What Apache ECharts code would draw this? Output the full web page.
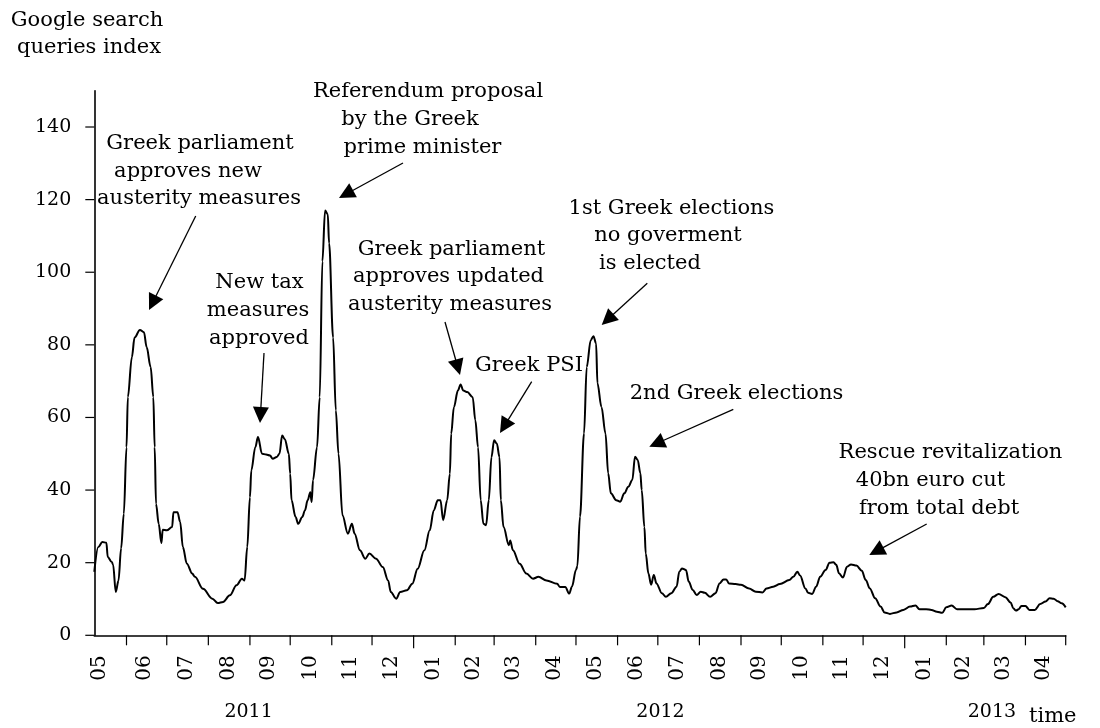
<!DOCTYPE html>
<html>
<head>
<meta charset="utf-8">
<script src="https://cdn.jsdelivr.net/npm/echarts@6/dist/echarts.min.js"></script>
<style>
html,body{margin:0;padding:0;background:#fff;}
#chart{width:1100px;height:728px;}
</style>
</head>
<body>
<div id="chart"></div>
<script>
// ---------- DATA ----------
const dates = [
'2011-05-08','2011-05-11','2011-05-14','2011-05-17','2011-05-18','2011-05-21','2011-05-22','2011-05-24','2011-05-26','2011-05-28',
'2011-05-30','2011-06-01','2011-06-02','2011-06-05','2011-06-07','2011-06-11','2011-06-14','2011-06-16','2011-06-19','2011-06-21',
'2011-06-22','2011-06-23','2011-06-25','2011-06-27','2011-06-28','2011-07-01','2011-07-05','2011-07-06','2011-07-09','2011-07-11',
'2011-07-13','2011-07-16','2011-07-20','2011-07-22','2011-07-28','2011-08-04','2011-08-08','2011-08-12','2011-08-17','2011-08-22',
'2011-08-26','2011-08-28','2011-08-30','2011-09-01','2011-09-02','2011-09-05','2011-09-07','2011-09-10','2011-09-13','2011-09-16',
'2011-09-18','2011-09-21','2011-09-23','2011-09-25','2011-09-27','2011-09-30','2011-10-01','2011-10-02','2011-10-05','2011-10-07',
'2011-10-10','2011-10-12','2011-10-14','2011-10-16','2011-10-17','2011-10-18','2011-10-21','2011-10-23','2011-10-25','2011-10-27',
'2011-10-29','2011-10-30','2011-11-02','2011-11-04','2011-11-06','2011-11-09','2011-11-13','2011-11-16','2011-11-18','2011-11-22',
'2011-11-26','2011-11-29','2011-12-04','2011-12-09','2011-12-13','2011-12-15','2011-12-19','2011-12-22','2011-12-27','2011-12-31',
'2012-01-04','2012-01-09','2012-01-13','2012-01-16','2012-01-19','2012-01-21','2012-01-23','2012-01-26','2012-01-28','2012-01-29',
'2012-01-31','2012-02-03','2012-02-05','2012-02-07','2012-02-10','2012-02-14','2012-02-16','2012-02-18','2012-02-20','2012-02-22',
'2012-02-24','2012-02-26','2012-02-28','2012-03-01','2012-03-03','2012-03-05','2012-03-06','2012-03-08','2012-03-12','2012-03-13',
'2012-03-15','2012-03-20','2012-03-25','2012-03-30','2012-04-03','2012-04-09','2012-04-17','2012-04-19','2012-04-23','2012-04-26',
'2012-04-28','2012-05-01','2012-05-02','2012-05-04','2012-05-07','2012-05-09','2012-05-12','2012-05-14','2012-05-16','2012-05-17',
'2012-05-20','2012-05-23','2012-05-25','2012-05-27','2012-05-31','2012-06-03','2012-06-06','2012-06-09','2012-06-12','2012-06-14',
'2012-06-16','2012-06-18','2012-06-19','2012-06-21','2012-06-22','2012-06-24','2012-06-26','2012-06-28','2012-06-30','2012-07-04',
'2012-07-07','2012-07-11','2012-07-15','2012-07-17','2012-07-19','2012-07-22','2012-07-24','2012-07-27','2012-07-30','2012-08-02',
'2012-08-05','2012-08-09','2012-08-13','2012-08-16','2012-08-19','2012-08-21','2012-08-23','2012-08-28','2012-09-01','2012-09-07',
'2012-09-12','2012-09-17','2012-09-20','2012-09-25','2012-09-30','2012-10-07','2012-10-10','2012-10-13','2012-10-15','2012-10-19',
'2012-10-21','2012-10-24','2012-10-27','2012-10-30','2012-11-03','2012-11-06','2012-11-09','2012-11-11','2012-11-13','2012-11-16',
'2012-11-19','2012-11-22','2012-11-26','2012-11-30','2012-12-03','2012-12-06','2012-12-10','2012-12-14','2012-12-17','2012-12-21',
'2012-12-26','2012-12-31','2013-01-05','2013-01-09','2013-01-12','2013-01-17','2013-01-21','2013-01-25','2013-01-29','2013-02-01',
'2013-02-05','2013-02-09','2013-02-15','2013-02-22','2013-03-01','2013-03-04','2013-03-08','2013-03-12','2013-03-17','2013-03-21',
'2013-03-23','2013-03-25','2013-03-27','2013-03-29','2013-04-01','2013-04-04','2013-04-08','2013-04-12','2013-04-16','2013-04-19',
'2013-04-22','2013-04-25','2013-04-28','2013-05-01'
];
const values = [
17.5,24.3,25.7,25.5,21.6,20.2,19.5,11.9,15,24,
33.5,51.8,65.6,76.6,82,84.1,83.5,79.4,73.9,65.6,
51.8,36.2,30.7,25.4,29.1,28.9,29.8,33.9,33.9,31.2,
24.3,19.7,17,16.1,12.8,10.1,8.9,9.2,11,13.8,
15.6,15.1,24.3,38,45.4,51.8,54.6,50,49.8,49.5,
48.6,49.1,50,55,54,50,44.5,37.2,32.6,30.7,
32.6,34.4,37.2,39.4,36.7,42.7,51.8,65.6,103,117,
116,108,82,62,50,33,28,30.7,28,23.4,
21.1,22.5,21.1,18.8,15.1,11.9,10.1,11.9,12.4,14.2,
18.3,23.4,28.9,34.4,37.2,37.2,31.7,37.2,44.5,55.5,
62.8,67.4,69.1,67.4,67,65.6,59.2,51.8,37.2,30.7,
30.3,37.2,49.1,53.7,52.8,49.1,37.2,29.8,24.8,26.1,
23.4,19.7,17,15.6,16.1,15.1,14.2,13.3,13.3,11.5,
13.4,18,19,32.7,55.6,73.9,81.3,82.4,80.4,69.4,
62.9,55.6,44.6,39.1,37.2,36.8,39.1,40.9,42.8,49.2,
48.3,44.6,40,29.8,22.5,17,13.9,16.6,14.3,11.6,
10.6,11.6,13.4,17.5,18.4,18,14.8,12.5,11.1,12,
11.7,10.6,11.6,14.3,15.4,15.4,14.3,14.1,13.9,12.9,
12,11.8,12.9,13.4,14.1,15.2,16.1,17.5,16.5,12.9,
11.7,11.4,13.4,16.1,18,20,20.1,19.4,17.1,15.9,
18.9,19.5,19.2,17.8,15.2,12.9,10.2,7.9,6.3,5.9,
6.3,7,7.9,8.2,7.2,7.2,7,6.5,6.2,7.7,
8.2,7.2,7.2,7.2,7.5,8.6,10.6,11.4,10.5,9,
7.4,6.8,7.2,8.1,8.1,7,7,8.6,9.3,10.2,
10.1,9.4,8.8,7.7
];
const yTickValues = [0, 20, 40, 60, 80, 100, 120, 140];
const monthTicks = [
'2011-06-01','2011-07-01','2011-08-01','2011-09-01','2011-10-01','2011-11-01','2011-12-01',
'2012-01-01','2012-02-01','2012-03-01','2012-04-01','2012-05-01','2012-06-01','2012-07-01',
'2012-08-01','2012-09-01','2012-10-01','2012-11-01','2012-12-01',
'2013-01-01','2013-02-01','2013-03-01','2013-04-01','2013-05-01'
];
const monthLabelDates = [
'2011-05-12','2011-06-15','2011-07-16','2011-08-16','2011-09-15','2011-10-16','2011-11-15','2011-12-16',
'2012-01-16','2012-02-15','2012-03-16','2012-04-15','2012-05-16','2012-06-15','2012-07-16',
'2012-08-16','2012-09-15','2012-10-16','2012-11-15','2012-12-16',
'2013-01-16','2013-02-14','2013-03-16','2013-04-15'
];
const yearTicks = ['2012-01-01', '2013-01-01'];
const yearLabelDates = ['2011-08-31', '2012-07-03', '2013-03-07'];
const axisStart = '2011-05-08';
const axisEnd = '2013-05-01';

const yTitle = ['Google search', 'queries index'];
const annotations = [
  { lines: ['Greek parliament', 'approves new', 'austerity measures'] },
  { lines: ['New tax', 'measures', 'approved'] },
  { lines: ['Referendum proposal', 'by the Greek', 'prime minister'] },
  { lines: ['Greek parliament', 'approves updated', 'austerity measures'] },
  { lines: ['Greek PSI'] },
  { lines: ['1st Greek elections', 'no goverment', 'is elected'] },
  { lines: ['2nd Greek elections'] },
  { lines: ['Rescue revitalization', '40bn euro cut', 'from total debt'] }
];

// ---------- LAYOUT (pixel positions of the annotation texts / arrows) ----------
const annotationLayout = [
  { centers: [[200, 144], [188, 172], [199, 199]], arrow: [195.7, 216, 149, 310] },
  { centers: [[259.5, 282.5], [258, 311], [259, 339]], arrow: [264, 353, 260, 423] },
  { centers: [[428, 91.5], [410, 119.5], [422.5, 147.5]], arrow: [403, 163, 339, 198] },
  { centers: [[451.5, 249.5], [448.5, 277], [450, 305]], arrow: [445, 322, 460, 375] },
  { centers: [[529, 366]], arrow: [531.7, 381.7, 500, 433] },
  { centers: [[671.5, 208.5], [668, 236], [650, 263.5]], arrow: [647.3, 283.3, 601.7, 325] },
  { centers: [[736.5, 393.5]], arrow: [733.3, 409.3, 649.3, 446.7] },
  { centers: [[950.5, 452.5], [930.5, 481], [939, 508.5]], arrow: [926.7, 524, 869.3, 555] }
];

const FONT_FAMILY = '"DejaVu Serif", "Liberation Serif", serif';
const AXIS_FONT_SIZE = 19;
const MONTH_FONT_SIZE = 20;
const NOTE_FONT_SIZE = 21;

function ts(s) {
  const p = s.split('-').map(Number);
  return new Date(p[0], p[1] - 1, p[2]).getTime();
}

const seriesData = dates.map((d, i) => [ts(d), values[i]]);

function arrowElements(a) {
  const [x1, y1, x2, y2] = a;
  const dx = x2 - x1, dy = y2 - y1;
  const L = Math.hypot(dx, dy);
  const ux = dx / L, uy = dy / L;
  const hl = 16, hw = 8;
  const bx = x2 - ux * hl, by = y2 - uy * hl;
  return [
    { type: 'line', silent: true, shape: { x1: x1, y1: y1, x2: bx + ux * 2, y2: by + uy * 2 },
      style: { stroke: '#000', lineWidth: 1.3 } },
    { type: 'polygon', silent: true,
      shape: { points: [[x2, y2], [bx - uy * hw, by + ux * hw], [bx + uy * hw, by - ux * hw]] },
      style: { fill: '#000' } }
  ];
}

function textEl(t, x, y, align) {
  return {
    type: 'text', silent: true, x: x, y: y,
    style: {
      text: t, fill: '#000', align: align || 'center', verticalAlign: 'middle',
      fontSize: NOTE_FONT_SIZE, fontFamily: FONT_FAMILY
    }
  };
}

const graphics = [];
graphics.push(textEl(yTitle[0], 87, 21));
graphics.push(textEl(yTitle[1], 89, 47.5));
annotations.forEach((a, i) => {
  const lay = annotationLayout[i];
  a.lines.forEach((ln, j) => {
    graphics.push(textEl(ln, lay.centers[j][0], lay.centers[j][1]));
  });
  arrowElements(lay.arrow).forEach(e => graphics.push(e));
});
graphics.push(textEl('time', 1029, 717, 'left'));

const labelStyle = { color: '#000', fontSize: AXIS_FONT_SIZE, fontFamily: FONT_FAMILY };

const chart = echarts.init(document.getElementById('chart'), null, { renderer: 'canvas' });
chart.setOption({
  animation: false,
  backgroundColor: '#fff',
  grid: { left: 94.3, right: 34.3, top: 90.7, bottom: 92.7, containLabel: false },
  xAxis: [
    {
      type: 'value',
      min: ts(axisStart),
      max: ts(axisEnd),
      position: 'bottom',
      axisLine: { show: true, onZero: false, lineStyle: { color: '#000', width: 1.6 } },
      axisTick: { show: false },
      axisLabel: Object.assign({}, labelStyle, {
        show: true, rotate: 90, margin: 20, fontSize: MONTH_FONT_SIZE,
        customValues: monthLabelDates.map(ts),
        formatter: function (v) {
          const m = new Date(v).getMonth() + 1;
          return (m < 10 ? '0' : '') + m;
        }
      }),
      splitLine: { show: false }
    },
    {
      type: 'value',
      min: ts(axisStart),
      max: ts(axisEnd),
      position: 'bottom',
      offset: 0,
      axisLine: { show: false },
      axisTick: { show: false },
      axisLabel: Object.assign({}, labelStyle, {
        show: true, margin: 67,
        customValues: yearLabelDates.map(ts),
        formatter: function (v) { return String(new Date(v).getFullYear()); }
      }),
      splitLine: { show: false }
    }
  ],
  yAxis: {
    type: 'value',
    min: 0,
    max: 150,
    axisLine: { show: true, onZero: false, lineStyle: { color: '#000', width: 1.6 } },
    axisTick: { show: false },
    axisLabel: Object.assign({ show: true, margin: 23, customValues: yTickValues }, labelStyle),
    splitLine: { show: false }
  },
  series: [{
    type: 'line',
    xAxisIndex: 0,
    data: seriesData,
    showSymbol: false,
    smooth: 0.35,
    smoothMonotone: 'x',
    lineStyle: { color: '#000', width: 2 },
    emphasis: { disabled: true }
  }],
  graphic: { elements: graphics }
});

// Axis ticks, positioned through the chart's own scales
const tickEls = [];
const yZero = chart.convertToPixel({ yAxisIndex: 0 }, 0);
const xStart = chart.convertToPixel({ xAxisIndex: 0 }, ts(axisStart));
monthTicks.forEach(d => {
  const x = chart.convertToPixel({ xAxisIndex: 0 }, ts(d));
  const len = yearTicks.indexOf(d) >= 0 ? 13 : 10;
  tickEls.push({ type: 'line', silent: true, shape: { x1: x, y1: yZero, x2: x, y2: yZero + len },
    style: { stroke: '#000', lineWidth: 1.2 } });
});
yTickValues.forEach(v => {
  const y = chart.convertToPixel({ yAxisIndex: 0 }, v);
  tickEls.push({ type: 'line', silent: true, shape: { x1: xStart - 9, y1: y, x2: xStart, y2: y },
    style: { stroke: '#000', lineWidth: 1.2 } });
});
chart.setOption({ graphic: { elements: graphics.concat(tickEls) } });
</script>
</body>
</html>
